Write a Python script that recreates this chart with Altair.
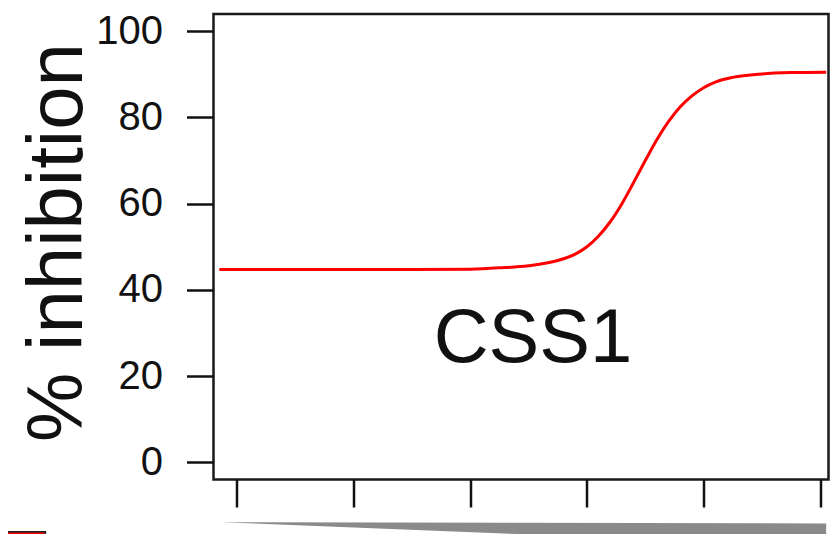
import altair as alt
import pandas as pd

# Dose-response curve (log concentration index vs % inhibition)
conc = [-0.15, 0.5, 1.0, 1.5, 2.0, 2.25, 2.5, 2.75, 2.9, 3.0, 3.1, 3.2, 3.3,
        3.4, 3.5, 3.6, 3.7, 3.8, 3.9, 4.0, 4.1, 4.25, 4.5, 4.75, 5.05]
inhibition = [44.7, 44.7, 44.7, 44.7, 44.8, 45.1, 45.6, 46.8, 48.3, 50.0, 52.5,
              55.8, 60.0, 64.9, 70.0, 74.9, 79.1, 82.5, 85.0, 86.9, 88.2, 89.3,
              90.1, 90.4, 90.5]

y_ticks = [0, 20, 40, 60, 80, 100]
x_ticks = [0, 1, 2, 3, 4, 5]

label_text = ["CSS1"]
label_x = [2.537]
label_y = [23.3]

# concentration wedge below the axis (in data units of the same scales)
wedge_x = [-0.143, 5.05]
wedge_top = [-13.9, -14.2]
wedge_bottom = [-13.9, -19.5]

# partial legend swatch at lower left
swatch_x = [-2.1]
swatch_x2 = [-1.64]
swatch_y = [-16.1]
swatch_y2 = [-19.0]

curve_df = pd.DataFrame({"conc": conc, "inh": inhibition})
text_df = pd.DataFrame({"t": label_text, "x": label_x, "y": label_y})
wedge_df = pd.DataFrame({"x": wedge_x, "y": wedge_top, "y2": wedge_bottom})
swatch_df = pd.DataFrame({"x": swatch_x, "x2": swatch_x2, "y": swatch_y, "y2": swatch_y2})

FONT = "Liberation Sans"

xscale = alt.Scale(domain=[-0.2, 5.07], nice=False, zero=False)
yscale = alt.Scale(domain=[-4, 104], nice=False, zero=False)

x_axis = alt.Axis(values=x_ticks, labels=False, domain=False, grid=False,
                  tickSize=27.5, tickWidth=2.5, tickColor="#111", title=None)
y_axis = alt.Axis(values=y_ticks, domain=False, grid=False,
                  tickSize=27, tickWidth=2.5, tickColor="#111",
                  labelFont=FONT, labelFontSize=40, labelColor="#111",
                  labelPadding=24,
                  title="% inhibition", titleFont=FONT, titleFontSize=78,
                  titleFontWeight="normal", titleColor="#111",
                  titleAngle=270, titleAlign="center", titleBaseline="alphabetic",
                  titleX=-132, titleY=228)

curve = alt.Chart(curve_df).mark_line(color="#ff0000", strokeWidth=3,
                                      interpolate="monotone").encode(
    x=alt.X("conc:Q", scale=xscale, axis=x_axis),
    y=alt.Y("inh:Q", scale=yscale, axis=y_axis),
)

text = alt.Chart(text_df).mark_text(font=FONT, fontSize=76, align="center",
                                    baseline="alphabetic", color="#111").encode(
    x=alt.X("x:Q", scale=xscale),
    y=alt.Y("y:Q", scale=yscale),
    text="t:N",
)

wedge = alt.Chart(wedge_df).mark_area(color="#8a8a8a", clip=False).encode(
    x=alt.X("x:Q", scale=xscale),
    y=alt.Y("y:Q", scale=yscale),
    y2="y2:Q",
)

swatch = alt.Chart(swatch_df).mark_rect(color="#ee0000", stroke="#222",
                                        strokeWidth=1.5, clip=False).encode(
    x=alt.X("x:Q", scale=xscale),
    x2="x2:Q",
    y=alt.Y("y:Q", scale=yscale),
    y2="y2:Q",
)

chart = alt.layer(wedge, swatch, curve, text).properties(
    width=615,
    height=465.5,
    background="white",
    autosize=alt.AutoSizeParams(type="none"),
    padding={"left": 205.5, "top": 6, "right": 1.5, "bottom": 54},
).configure_view(
    stroke="#1a1a1a", strokeWidth=2.5, fill="white"
)

chart.save("out.html", embed_options={"renderer": "svg", "actions": False})
